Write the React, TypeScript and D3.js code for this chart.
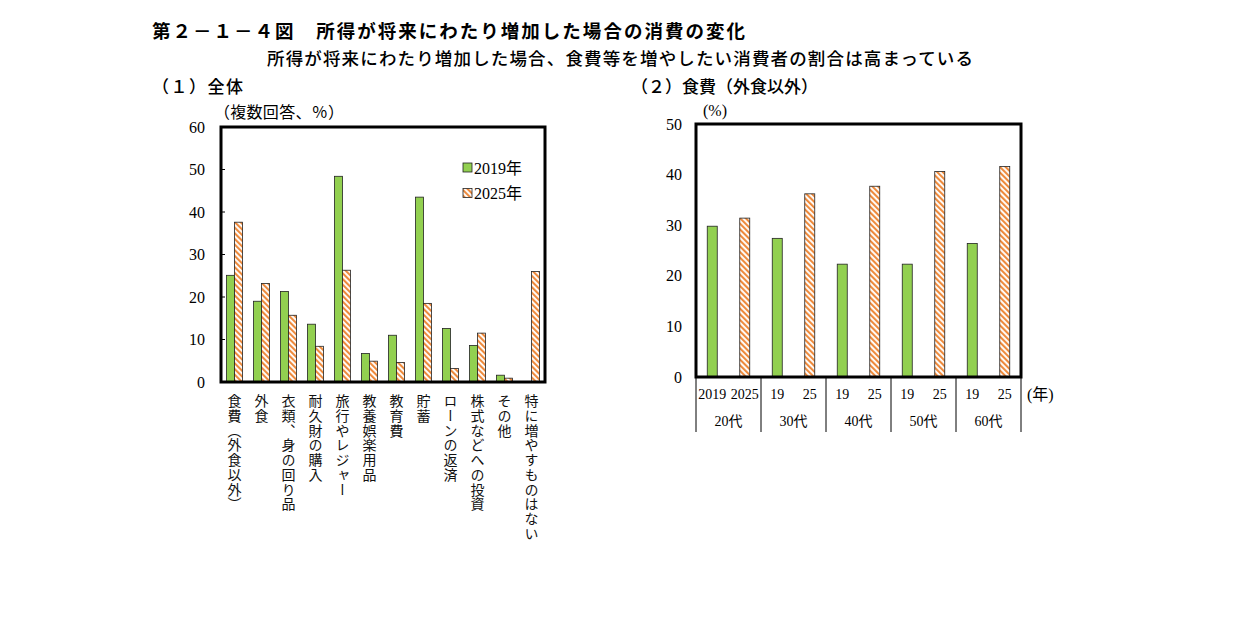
import React from "react";
import * as d3 from "d3";

const categories = [
  "食費（外食以外）",
  "外食",
  "衣類、身の回り品",
  "耐久財の購入",
  "旅行やレジャー",
  "教養娯楽用品",
  "教育費",
  "貯蓄",
  "ローンの返済",
  "株式などへの投資",
  "その他",
  "特に増やすものはない",
];
const values2019 = [25.1, 19.0, 21.3, 13.6, 48.4, 6.7, 11.0, 43.5, 12.6, 8.6, 1.6, 0];
const values2025 = [37.6, 23.2, 15.7, 8.4, 26.3, 4.9, 4.6, 18.5, 3.2, 11.5, 0.9, 26.0];

const ageGroups = ["20代", "30代", "40代", "50代", "60代"];
const food2019 = [29.8, 27.4, 22.3, 22.3, 26.4];
const food2025 = [31.4, 36.2, 37.7, 40.6, 41.6];
const yearLabelsFirst = ["2019", "2025"];
const yearLabelsShort = ["19", "25"];

const leftTicks = [0, 10, 20, 30, 40, 50, 60];
const rightTicks = [0, 10, 20, 30, 40, 50];

const GREEN = "#92D050";
const ORANGE = "#EE8A3C";
const SERIF = "'Liberation Serif', 'Times New Roman', 'Noto Sans CJK JP', serif";
const SANS = "'Noto Sans CJK JP', sans-serif";

export default function App() {
  // Left chart geometry
  const L = { x0: 221, x1: 545, y0: 382, y1: 127 };
  const ly = d3.scaleLinear().domain([0, 60]).range([L.y0, L.y1]);
  const lx = d3.scaleBand<string>().domain(categories).range([L.x0, L.x1]).padding(0);
  const lbw = 8;

  // Right chart geometry
  const R = { x0: 696, x1: 1021, y0: 377, y1: 124 };
  const ry = d3.scaleLinear().domain([0, 50]).range([R.y0, R.y1]);
  const slots = ageGroups.flatMap((g) => [g + "-19", g + "-25"]);
  const rx = d3.scaleBand<string>().domain(slots).range([R.x0, R.x1]).padding(0);
  const rbw = 10;
  const groupX = d3.scaleBand<string>().domain(ageGroups).range([R.x0, R.x1]).padding(0);

  return (
    <svg
      width={1237}
      height={621}
      style={{ position: "absolute", left: 0, top: 0, background: "#fff" }}
    >
      <defs>
        <pattern
          id="hatch"
          width={4}
          height={4}
          patternUnits="userSpaceOnUse"
          patternTransform="rotate(-45)"
        >
          <rect width={4} height={4} fill="#fff" />
          <rect width={2.1} height={4} fill={ORANGE} />
        </pattern>
      </defs>

      {/* Titles */}
      <text x={152} y={38} fontFamily={SANS} fontSize={18.5} fontWeight="bold" textLength={593} lengthAdjust="spacing">
        第２－１－４図　所得が将来にわたり増加した場合の消費の変化
      </text>
      <text x={267} y={65} fontFamily={SANS} fontSize={17.5} fontWeight={500} textLength={706} lengthAdjust="spacing">
        所得が将来にわたり増加した場合、食費等を増やしたい消費者の割合は高まっている
      </text>
      <text x={152} y={93} fontFamily={SANS} fontSize={17} fontWeight={500} textLength={91} lengthAdjust="spacing">
        （１）全体
      </text>
      <text x={631} y={93} fontFamily={SANS} fontSize={17} fontWeight={500} textLength={187} lengthAdjust="spacing">
        （２）食費（外食以外）
      </text>

      {/* Left chart */}
      <text x={214} y={118} fontFamily={SERIF} fontSize={16} textLength={130} lengthAdjust="spacing">
        （複数回答、％）
      </text>
      {leftTicks.map((t) => (
        <g key={"lt" + t}>
          <text x={205} y={ly(t)} dy="0.35em" textAnchor="end" fontFamily={SERIF} fontSize={16}>
            {t}
          </text>
          <line x1={L.x0} x2={L.x0 + 4} y1={ly(t)} y2={ly(t)} stroke="#000" strokeWidth={1} />
        </g>
      ))}
      {categories.map((c, i) => {
        const cx = (lx(c) as number) + lx.bandwidth() / 2;
        return (
          <g key={"lb" + c}>
            {values2019[i] > 0 && (
              <rect
                x={cx - lbw}
                y={ly(values2019[i])}
                width={lbw}
                height={ly(0) - ly(values2019[i])}
                fill={GREEN}
                stroke="#222"
                strokeWidth={0.8}
              />
            )}
            <rect
              x={cx}
              y={ly(values2025[i])}
              width={lbw}
              height={ly(0) - ly(values2025[i])}
              fill="url(#hatch)"
              stroke="#222"
              strokeWidth={0.8}
            />
            <text
              x={cx}
              y={394}
              fontFamily={SANS}
              fontSize={14}
              letterSpacing={0.7}
              style={{ writingMode: "vertical-rl" }}
              fill="#111"
            >
              {c}
            </text>
          </g>
        );
      })}
      <rect x={L.x0} y={L.y1} width={L.x1 - L.x0} height={L.y0 - L.y1} fill="none" stroke="#000" strokeWidth={3} />

      {/* Legend */}
      <rect x={463} y={163} width={9} height={9} fill={GREEN} stroke="#222" strokeWidth={0.8} />
      <text x={474} y={168} dy="0.35em" fontFamily={SERIF} fontSize={16}>2019年</text>
      <rect x={463} y={188.5} width={9} height={9} fill="url(#hatch)" stroke="#222" strokeWidth={0.8} />
      <text x={474} y={193.5} dy="0.35em" fontFamily={SERIF} fontSize={16}>2025年</text>

      {/* Right chart */}
      <text x={703} y={116} fontFamily={SERIF} fontSize={16}>(%)</text>
      {rightTicks.map((t) => (
        <text key={"rt" + t} x={682} y={ry(t)} dy="0.35em" textAnchor="end" fontFamily={SERIF} fontSize={16}>
          {t}
        </text>
      ))}
      {ageGroups.map((g, i) => {
        const c19 = (rx(g + "-19") as number) + rx.bandwidth() / 2;
        const c25 = (rx(g + "-25") as number) + rx.bandwidth() / 2;
        const labels = i === 0 ? yearLabelsFirst : yearLabelsShort;
        const gx = groupX(g) as number;
        return (
          <g key={"rg" + g}>
            <rect
              x={c19 - rbw / 2}
              y={ry(food2019[i])}
              width={rbw}
              height={ry(0) - ry(food2019[i])}
              fill={GREEN}
              stroke="#222"
              strokeWidth={0.8}
            />
            <rect
              x={c25 - rbw / 2}
              y={ry(food2025[i])}
              width={rbw}
              height={ry(0) - ry(food2025[i])}
              fill="url(#hatch)"
              stroke="#222"
              strokeWidth={0.8}
            />
            <text x={c19} y={394} dy="0.35em" textAnchor="middle" fontFamily={SERIF} fontSize={14}>
              {labels[0]}
            </text>
            <text x={c25} y={394} dy="0.35em" textAnchor="middle" fontFamily={SERIF} fontSize={14}>
              {labels[1]}
            </text>
            <text x={gx + groupX.bandwidth() / 2} y={421} dy="0.35em" textAnchor="middle" fontFamily={SERIF} fontSize={14}>
              {g}
            </text>
          </g>
        );
      })}
      {d3.range(ageGroups.length + 1).map((k) => {
        const x = k < ageGroups.length ? (groupX(ageGroups[k]) as number) : R.x1;
        return <line key={"sep" + k} x1={x} x2={x} y1={R.y0} y2={432} stroke="#000" strokeWidth={1} />;
      })}
      <text x={1027} y={394} dy="0.35em" fontFamily={SERIF} fontSize={16}>(年)</text>
      <rect x={R.x0} y={R.y1} width={R.x1 - R.x0} height={R.y0 - R.y1} fill="none" stroke="#000" strokeWidth={3} />
    </svg>
  );
}
